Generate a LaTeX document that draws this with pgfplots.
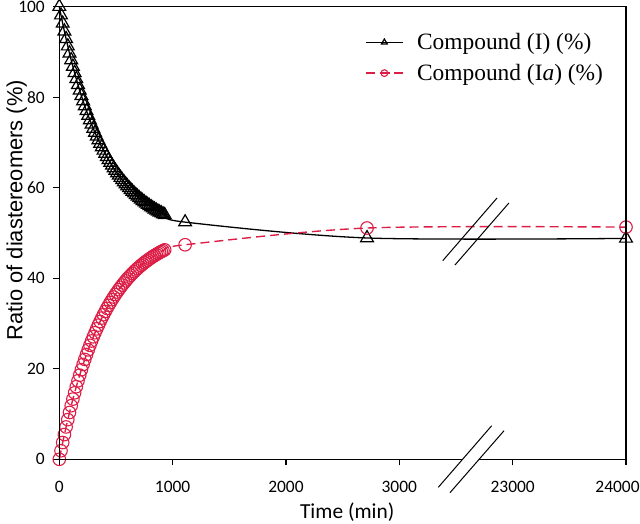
\documentclass[border=0pt]{standalone}
\usepackage{fontspec}
\setmainfont{Liberation Serif}
\newfontfamily\carlito{Carlito}
\newfontfamily\arialf{Liberation Sans}
\usepackage{pgfplots}
\usepackage{pgfplotstable}
\pgfplotsset{compat=1.18}
\definecolor{myred}{RGB}{220,30,70}

% x in plot units: real time for t<=3000; 23000 -> 4000, 24000 -> 5000 (axis break)
\pgfplotstableread{
x y
0 100.00
15 98.12
30 96.31
45 94.57
60 92.90
75 91.28
90 89.72
105 88.23
120 86.78
135 85.39
150 84.05
165 82.76
180 81.52
195 80.32
210 79.17
225 78.06
240 76.99
255 75.96
270 74.97
285 74.01
300 73.09
315 72.20
330 71.35
345 70.53
360 69.74
375 68.97
390 68.24
405 67.53
420 66.85
435 66.19
450 65.56
465 64.95
480 64.36
495 63.80
510 63.25
525 62.73
540 62.22
555 61.73
570 61.27
585 60.81
600 60.38
615 59.96
630 59.56
645 59.17
660 58.79
675 58.43
690 58.09
705 57.75
720 57.43
735 57.12
750 56.82
765 56.53
780 56.26
795 55.99
810 55.73
825 55.48
840 55.25
855 55.02
870 54.79
885 54.58
900 54.38
915 54.18
930 53.99
1110 52.40
2715 48.90
5000 48.80
}\tabI

\pgfplotstableread{
x y
0 0.00
15 1.89
30 3.71
45 5.46
60 7.15
75 8.77
90 10.34
105 11.84
120 13.30
135 14.69
150 16.04
165 17.34
180 18.59
195 19.79
210 20.95
225 22.07
240 23.15
255 24.18
270 25.18
285 26.14
300 27.07
315 27.96
330 28.82
345 29.65
360 30.44
375 31.21
390 31.95
405 32.66
420 33.35
435 34.01
450 34.65
465 35.26
480 35.85
495 36.42
510 36.96
525 37.49
540 38.00
555 38.49
570 38.96
585 39.42
600 39.85
615 40.27
630 40.68
645 41.07
660 41.45
675 41.81
690 42.16
705 42.50
720 42.82
735 43.13
750 43.43
765 43.72
780 44.00
795 44.27
810 44.53
825 44.78
840 45.02
855 45.25
870 45.47
885 45.69
900 45.89
915 46.09
930 46.28
1110 47.40
2715 51.10
5000 51.30
}\tabIa

\begin{document}
\begin{tikzpicture}
\begin{axis}[
  scale only axis,
  width=566.7bp, height=452.6bp,
  at={(0,0)}, anchor=south west,
  xmin=0, xmax=5000, ymin=0, ymax=100,
  clip=false,
  axis line style={line width=1.3pt, black},
  xtick={0,1000,2000,3000,4000,5000},
  xticklabels={0,1000,2000,3000,23000,\mbox{\hspace{-17bp}24000}},
  ytick={0,20,40,60,80,100},
  xtick pos=bottom, ytick pos=left,
  tick align=outside,
  major tick length=6bp,
  tick style={line width=1.1pt, black},
  /pgf/number format/assume math mode=true,
  ticklabel style={font=\carlito\fontsize{17.5}{18}\selectfont},
  xticklabel style={yshift=-12bp},
  yticklabel style={xshift=-5bp},
  xlabel={Time (min)},
  ylabel={Ratio of diastereomers (\%)},
  xlabel style={font=\carlito\fontsize{21.5}{22}\selectfont, at={(axis description cs:0.508,0)}, anchor=base, yshift=-59bp},
  ylabel style={font=\arialf\fontsize{22}{22}\selectfont, at={(axis description cs:-0.075,0.55)}, anchor=center},
  legend cell align=left,
  legend style={draw=none, fill=none, at={(axis description cs:0.535,0.95)}, anchor=north west,
    font=\fontsize{23.5}{24}\selectfont, row sep=9bp},
  legend image code/.code={\draw[mark repeat=2,mark phase=2,mark size=3.4pt] plot coordinates {(0bp,0bp) (18bp,0bp) (36bp,0bp)};},
]
\addplot[black, line width=1.3pt, smooth, mark=triangle, mark size=7.4pt, mark options={solid, line width=1.2pt}] table[x=x,y=y]{\tabI};
\addlegendentry{\hspace{12bp}Compound (I) (\%)}
\addplot[myred, line width=1.4pt, smooth, dash pattern=on 9bp off 5bp, mark=o, mark size=6.3pt, mark options={solid, line width=1.1pt}] table[x=x,y=y]{\tabIa};
\addlegendentry{\hspace{12bp}Compound (I\textit{a}) (\%)}

\coordinate (ba1) at (axis cs:3344,-6.19);
\coordinate (ba2) at (axis cs:3815,7.42);
\coordinate (bb1) at (axis cs:3447,-7.38);
\coordinate (bb2) at (axis cs:3924,6.32);
\coordinate (ta1) at (axis cs:3383,43.88);
\coordinate (ta2) at (axis cs:3862,57.73);
\coordinate (tb1) at (axis cs:3491,42.93);
\coordinate (tb2) at (axis cs:3967,56.63);
\end{axis}
\draw[line width=1.3pt] (0bp,0bp) rectangle (566.7bp,452.6bp);
\fill[white] (ba1) -- (ba2) -- (bb2) -- (bb1) -- cycle;
\draw[line width=1pt] (ba1) -- (ba2);
\draw[line width=1pt] (bb1) -- (bb2);
\draw[line width=1pt] (ta1) -- (ta2);
\draw[line width=1pt] (tb1) -- (tb2);
\pgfresetboundingbox
\useasboundingbox (-59.3bp,-64.7bp) rectangle (580.7bp,459.3bp);
\end{tikzpicture}
\end{document}
